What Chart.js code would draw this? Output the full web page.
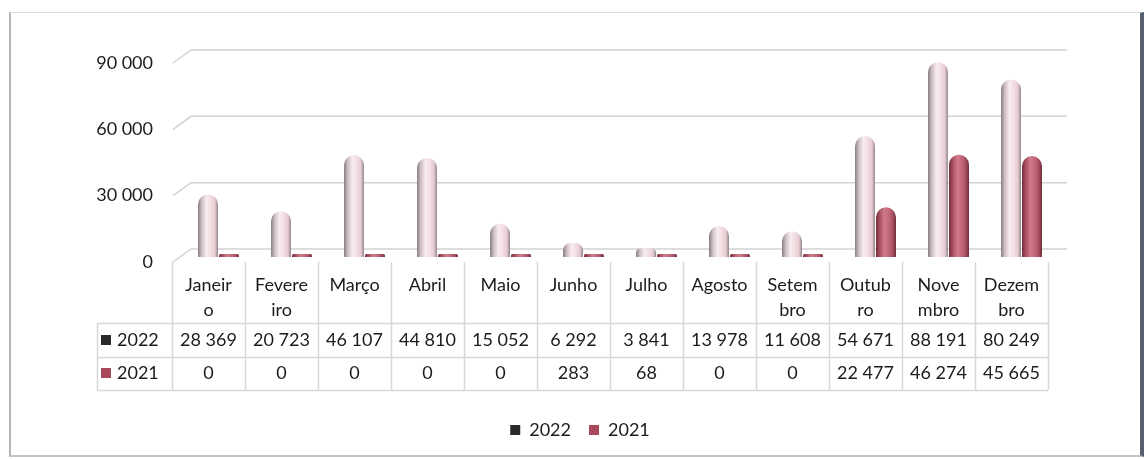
<!DOCTYPE html>
<html><head><meta charset="utf-8">
<script src="https://cdn.jsdelivr.net/npm/chart.js@4"></script>
<style>
html,body{margin:0;padding:0;background:#fff;}
#wrap{position:relative;width:1146px;height:459px;overflow:hidden;background:#fff;}
#frame{position:absolute;left:9px;top:12px;width:1135px;height:445px;border-left:2px solid #b4b4b4;border-top:1px solid #dcdcdc;border-bottom:2px solid #c4c4c4;border-right:4px solid #56606e;box-sizing:border-box;}
canvas{position:absolute;left:0;top:0;}
</style></head><body>
<div id="wrap"><div id="frame"></div><canvas id="c" width="1146" height="459"></canvas></div>
<script>
// ---- data ----
const categories = [["Janeir","o"],["Fevere","iro"],["Março"],["Abril"],["Maio"],["Junho"],["Julho"],["Agosto"],["Setem","bro"],["Outub","ro"],["Nove","mbro"],["Dezem","bro"]];
const seriesNames = ["2022","2021"];
const values2022 = [28369,20723,46107,44810,15052,6292,3841,13978,11608,54671,88191,80249];
const values2021 = [0,0,0,0,0,283,68,0,0,22477,46274,45665];
const yTicks = [0,30000,60000,90000];

// ---- styling ----
const FONT = 'Lato';
const TXT = '#1c1c1c';
const CAT_PCT = 0.575, BAR_PCT = 0.95;
const DX = 10; // 3D depth shift between table and bars
const fills = [
  ['#857c80','#cdbcc1','#f8ecef','#f2dde2','#e6cbd1','#8f8387'],
  ['#6f2c3a','#a9505f','#cf7b8a','#c2677a','#a54f61','#6a2735']
];
const legendIcon = ['#2a2a2a','#a8485a'];

function fmt(v){return String(v).replace(/\B(?=(\d{3})+(?!\d))/g,' ');}

function barFill(ds){
  return (c)=>{
    const chart=c.chart, xs=chart.scales && chart.scales.x;
    if(!chart.chartArea || !xs || c.type!=='data') return fills[ds][3];
    const cw = xs.getPixelForValue(1)-xs.getPixelForValue(0);
    const half = cw*CAT_PCT/2, bw = half*BAR_PCT;
    const cx = xs.getPixelForValue(c.dataIndex) + (ds===0?-half/2:half/2);
    const g = chart.ctx.createLinearGradient(cx-bw/2,0,cx+bw/2,0);
    const f = fills[ds];
    g.addColorStop(0,f[0]); g.addColorStop(0.18,f[1]); g.addColorStop(0.42,f[2]);
    g.addColorStop(0.65,f[3]); g.addColorStop(0.85,f[4]); g.addColorStop(1,f[5]);
    return g;
  };
}

const gridAndTable = {
  id:'gridAndTable',
  beforeDatasetsDraw(chart){
    const ctx=chart.ctx, y=chart.scales.y, a=chart.chartArea;
    const left=a.left-DX, right=a.right+9;
    ctx.save(); ctx.strokeStyle='#d2d2d2'; ctx.lineWidth=1.5;
    yTicks.forEach(v=>{
      const py=y.getPixelForValue(v);
      ctx.beginPath(); ctx.moveTo(left+1,py+5); ctx.lineTo(left+19,py-8); ctx.lineTo(right,py-8); ctx.stroke();
    });
    ctx.restore();
  },
  afterDatasetsDraw(chart){
    const ctx=chart.ctx, x=chart.scales.x, y=chart.scales.y;
    const cw = x.getPixelForValue(1)-x.getPixelForValue(0);
    const colC = i => x.getPixelForValue(i)-DX;
    const L = colC(0)-cw/2, R = colC(categories.length-1)+cw/2;
    const top = y.getPixelForValue(0)+5;
    const hb = 323, r1 = 357, r2 = 390, labL = 97;
    ctx.save();
    ctx.strokeStyle='#d8d8d8'; ctx.lineWidth=1.5;
    ctx.beginPath();
    for(let i=0;i<=categories.length;i++){const px=Math.round(L+i*cw)+0.5; ctx.moveTo(px,top); ctx.lineTo(px,r2);}
    [hb,r1,r2].forEach(py=>{ctx.moveTo(labL,py+0.5); ctx.lineTo(R,py+0.5);});
    ctx.moveTo(labL+0.5,hb); ctx.lineTo(labL+0.5,r2);
    ctx.stroke();
    ctx.fillStyle=TXT; ctx.font='18px '+FONT; ctx.textAlign='center'; ctx.textBaseline='middle';
    categories.forEach((lines,i)=>{
      lines.forEach((t,k)=>ctx.fillText(t,colC(i),285+k*25));
      ctx.fillText(fmt(values2022[i]),colC(i),340);
      ctx.fillText(fmt(values2021[i]),colC(i),373);
    });
    ctx.textAlign='left';
    [340,373].forEach((py,k)=>{
      ctx.fillStyle=legendIcon[k]; ctx.fillRect(101,py-5,10,10);
      ctx.fillStyle=TXT; ctx.fillText(seriesNames[k],117,py);
    });
    ctx.restore();
  }
};

new Chart(document.getElementById('c'),{
  type:'bar',
  data:{
    labels:categories,
    datasets:[
      {label:seriesNames[0],data:values2022,backgroundColor:barFill(0),borderRadius:{topLeft:10,topRight:10,bottomLeft:0,bottomRight:0},borderSkipped:false},
      {label:seriesNames[1],data:values2021,backgroundColor:barFill(1),borderRadius:{topLeft:10,topRight:10,bottomLeft:0,bottomRight:0},borderSkipped:false,minBarLength:3}
    ]
  },
  options:{
    responsive:false, animation:false,
    categoryPercentage:CAT_PCT, barPercentage:BAR_PCT,
    layout:{padding:{top:58,left:14,right:0,bottom:10}},
    font:{family:FONT},
    plugins:{
      tooltip:{enabled:false},
      legend:{position:'bottom',
        labels:{font:{family:FONT,size:18},color:TXT,boxWidth:10,boxHeight:10,padding:18,
          generateLabels:(ch)=>ch.data.datasets.map((d,i)=>({text:d.label,fillStyle:legendIcon[i],strokeStyle:legendIcon[i],lineWidth:0,datasetIndex:i,fontColor:TXT}))}}
    },
    scales:{
      x:{display:true,ticks:{display:false},grid:{display:false,drawTicks:false},border:{display:false},
        afterFit:s=>{s.height=146;}},
      y:{min:0,max:90000,
        afterBuildTicks:s=>{s.ticks=yTicks.map(v=>({value:v}));},
        ticks:{font:{family:FONT,size:18},color:TXT,padding:29,labelOffset:5,callback:v=>fmt(v)},
        grid:{display:false,drawTicks:false},border:{display:false},
        afterFit:s=>{s.width=168;}},
      y2:{position:'right',display:true,ticks:{display:false},grid:{display:false,drawTicks:false},border:{display:false},
        afterFit:s=>{s.width=88;}}
    }
  },
  plugins:[gridAndTable]
});
</script>
</body></html>
